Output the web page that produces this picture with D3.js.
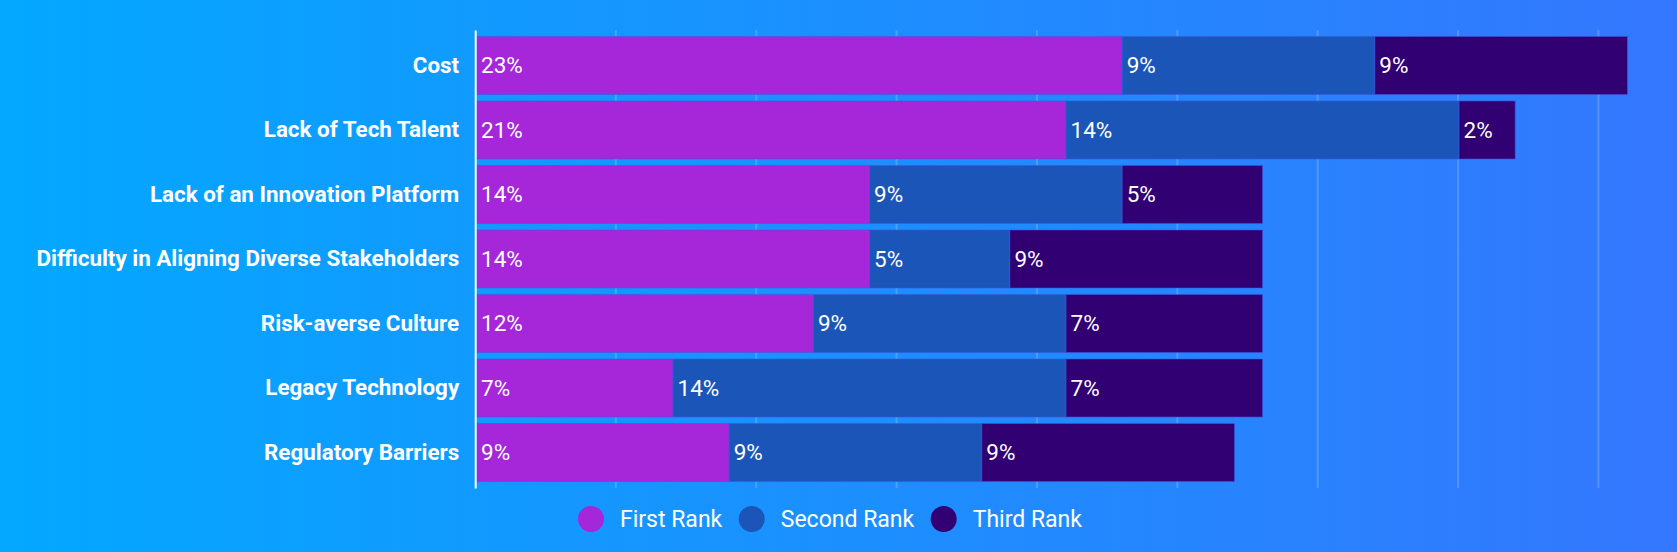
<!DOCTYPE html>
<html>
<head>
<meta charset="utf-8">
<script src="https://cdn.jsdelivr.net/npm/d3@7"></script>
<style>
  html, body { margin: 0; padding: 0; overflow: hidden; }
  body { width: 1677px; height: 552px; }
  svg { display: block; font-family: Roboto, "Noto Sans", sans-serif; }
</style>
</head>
<body>
<svg id="chart" width="1677" height="552"></svg>
<script>
const categories = [
  "Cost",
  "Lack of Tech Talent",
  "Lack of an Innovation Platform",
  "Difficulty in Aligning Diverse Stakeholders",
  "Risk-averse Culture",
  "Legacy Technology",
  "Regulatory Barriers"
];
const seriesNames = ["First Rank", "Second Rank", "Third Rank"];
const firstRank  = [23, 21, 14, 14, 12, 7, 9];
const secondRank = [9, 14, 9, 5, 9, 14, 9];
const thirdRank  = [9, 2, 5, 9, 7, 7, 9];
const seriesColors = ["#a626d9", "#1c55b8", "#310073"];
const gridTicks = [5, 10, 15, 20, 25, 30, 35, 40];

const W = 1677, H = 552;
const svg = d3.select("#chart");

// background gradient
const defs = svg.append("defs");
const grad = defs.append("linearGradient").attr("id", "bg")
  .attr("x1", "0%").attr("y1", "0%").attr("x2", "100%").attr("y2", "0%");
grad.append("stop").attr("offset", "0%").attr("stop-color", "#03a8ff");
grad.append("stop").attr("offset", "100%").attr("stop-color", "#3477fe");
svg.append("rect").attr("width", W).attr("height", H).attr("fill", "url(#bg)");

const rows = categories.map((c, i) => ({
  category: c,
  "First Rank": firstRank[i],
  "Second Rank": secondRank[i],
  "Third Rank": thirdRank[i]
}));
const stacked = d3.stack().keys(seriesNames)(rows);
const maxTotal = d3.max(stacked[stacked.length - 1], d => d[1]);

const x = d3.scaleLinear().domain([0, maxTotal]).range([476.5, 1627.5]);
const y = d3.scaleBand().domain(categories).range([30, 488]).paddingInner(0.1).paddingOuter(0.1);

// gridlines
svg.append("g").selectAll("line").data(gridTicks).join("line")
  .attr("x1", d => x(d) - 1).attr("x2", d => x(d) - 1)
  .attr("y1", 30).attr("y2", 488)
  .attr("stroke", "rgba(255,255,255,0.18)").attr("stroke-width", 2);

// bars
const layers = svg.append("g").selectAll("g").data(stacked).join("g")
  .attr("fill", (d, i) => seriesColors[i]);
layers.selectAll("rect").data(d => d.map(v => ({v, cat: v.data.category}))).join("rect")
  .attr("x", d => x(d.v[0]))
  .attr("y", d => y(d.cat))
  .attr("width", d => x(d.v[1]) - x(d.v[0]))
  .attr("height", y.bandwidth())
  .attr("stroke", "rgba(60,90,230,0.55)")
  .attr("stroke-width", 1);

// value labels
const lbl = svg.append("g");
stacked.forEach((layer) => {
  lbl.selectAll(null).data(layer).join("text")
    .attr("x", d => x(d[0]) + 4.5)
    .attr("y", d => y(d.data.category) + y.bandwidth() / 2)
    .attr("dy", "0.35em")
    .attr("fill", "#ffffff")
    .attr("font-size", 22.5)
    .text(d => (d[1] - d[0]) + "%");
});

// y axis
const yAxis = svg.append("g").attr("transform", "translate(475.2,0)")
  .call(d3.axisLeft(y).tickSize(0).tickSizeOuter(0).tickPadding(16));
yAxis.select(".domain").attr("stroke", "#ffffff").attr("stroke-width", 2);
yAxis.selectAll("text")
  .attr("fill", "#ffffff")
  .attr("font-size", 22.4)
  .attr("font-weight", "bold")
  .attr("font-family", "Roboto, sans-serif");

// legend
const legend = svg.append("g");
let lx = 578;
seriesNames.forEach((name, i) => {
  legend.append("circle").attr("cx", lx + 13).attr("cy", 519).attr("r", 13)
    .attr("fill", seriesColors[i]);
  const t = legend.append("text").attr("x", lx + 42).attr("y", 519)
    .attr("dy", "0.36em").attr("fill", "#ffffff").attr("font-size", 23)
    .text(name);
  const tw = t.node().getComputedTextLength();
  lx = lx + 42 + tw + 16.5;
});
</script>
</body>
</html>
